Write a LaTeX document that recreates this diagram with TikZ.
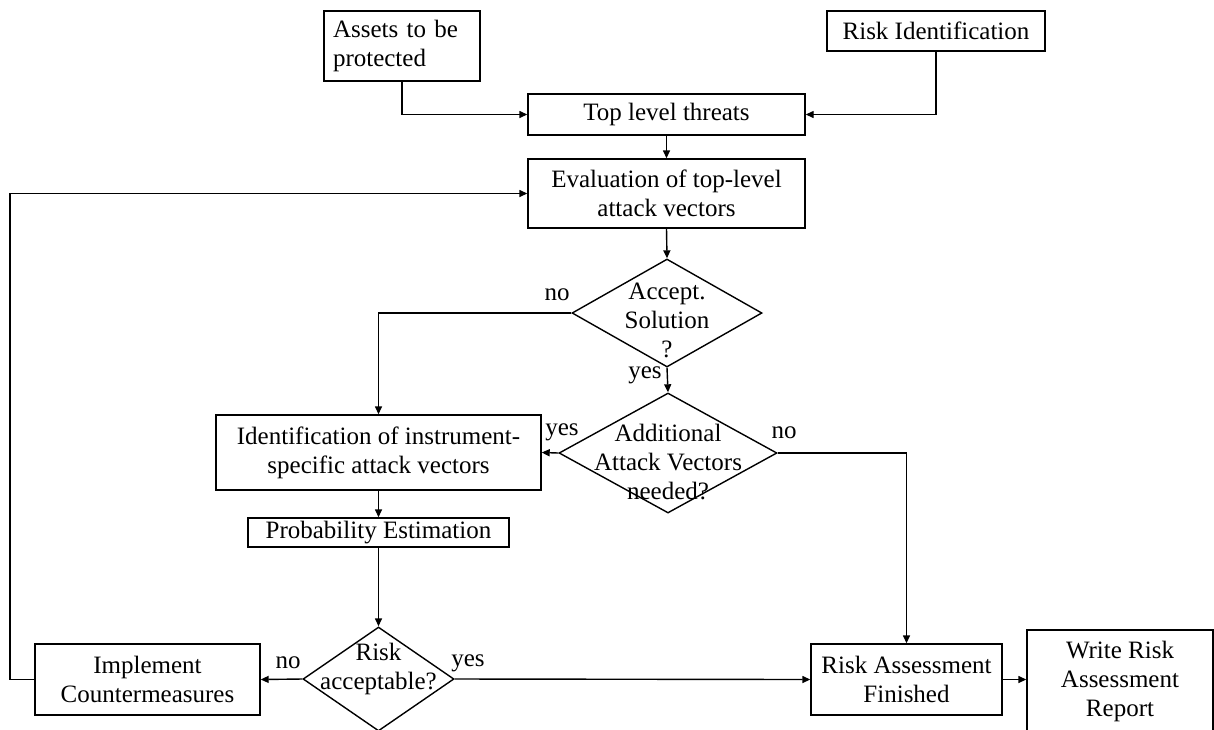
\documentclass[tikz,border=0pt]{standalone}
\usepackage{fontspec}
\setmainfont{Liberation Serif}
\usetikzlibrary{shapes.geometric,arrows.meta}
\begin{document}
\begin{tikzpicture}[x=1pt,y=-1pt,
  lw/.style={line width=1.4pt},
  box/.style={draw,lw,inner sep=0pt,align=center,font=\fontsize{25}{29}\selectfont},
  dia/.style={draw,lw,diamond,inner sep=0pt},
  txt/.style={inner sep=0pt,align=center,font=\fontsize{25}{29}\selectfont},
  lab/.style={inner sep=0pt,font=\fontsize{25}{29}\selectfont},
  arr/.style={lw,-{Triangle[length=8pt,width=7pt]}},
  ln/.style={lw}
]
\useasboundingbox (0,0) rectangle (1214,729);
% boxes
\node[box,minimum width=156,minimum height=70,align=left,text width=138pt] (assets) at (402,46) {Assets to be\\protected};
\node[box,minimum width=218,minimum height=40] (risk) at (936,31) {Risk Identification};
\node[box,minimum width=277,minimum height=41] (top) at (666.5,114.5) {Top level threats};
\node[box,minimum width=277,minimum height=69] (eval) at (666.5,193.5) {Evaluation of top-level\\attack vectors};
\node[box,minimum width=325,minimum height=75] (ident) at (378.5,452.5) {Identification of instrument-\\specific attack vectors};
\node[box,minimum width=261,minimum height=29] (prob) at (378.5,532.5) {Probability Estimation};
\node[box,minimum width=225,minimum height=71] (impl) at (147.5,679.5) {Implement\\Countermeasures};
\node[box,minimum width=191,minimum height=71] (raf) at (906.5,679.5) {Risk Assessment\\Finished};
\node[box,minimum width=186,minimum height=102] (write) at (1120,681) {Write Risk\\Assessment\\Report};
% diamonds
\node[dia,minimum width=190,minimum height=108] (d1) at (667,313) {};
\node[txt] (d1t) at (667,320) {Accept.\\Solution\\?};
\node[dia,minimum width=218,minimum height=120] (d2) at (668,453) {};
\node[txt] (d2t) at (668,462) {Additional\\Attack Vectors\\needed?};
\node[dia,minimum width=151,minimum height=104] (d3) at (378.5,679) {};
\node[txt] (d3t) at (378.5,669) {Risk\\acceptable?};
% labels
\node[lab] (l1) at (557,295) {no};
\node[lab] (l2) at (645,375) {yes};
\node[lab] (l3) at (562,432) {yes};
\node[lab] (l4) at (784,433) {no};
\node[lab] (l5) at (288,663) {no};
\node[lab] (l6) at (468,663) {yes};
% connectors
\draw[arr] (assets.south) |- (top.west);
\draw[arr] (risk.south) |- (top.east);
\draw[arr] (top.south) -- (eval.north);
\draw[arr] (eval.south) -- (d1.north);
\draw[arr] (d1.west) -| (ident.north);
\draw[arr] (d1.south) -- (d2.north);
\draw[arr] (d2.west) -- (ident.east);
\draw[arr] (d2.east) -| (raf.north);
\draw[arr] (ident.south) -- (prob.north);
\draw[arr] (prob.south) -- (d3.north);
\draw[arr] (d3.west) -- (impl.east);
\draw[arr] (d3.east) -- (raf.west);
\draw[arr] (raf.east) -- (raf.east -| write.west);
\coordinate (fb) at (10,679.5);
\draw[arr] (impl.west) -- (fb) |- (eval.west);
\end{tikzpicture}
\end{document}
